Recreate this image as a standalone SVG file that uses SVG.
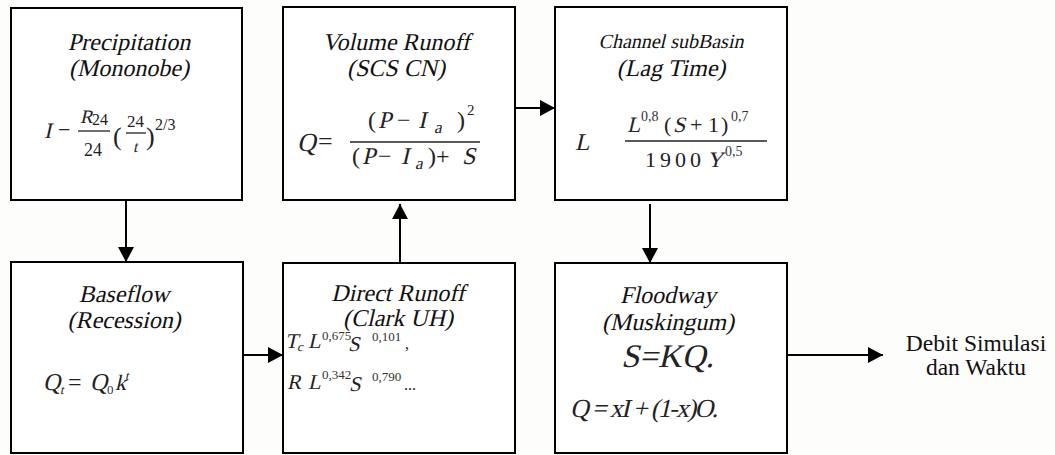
<svg xmlns="http://www.w3.org/2000/svg" width="1055" height="455" viewBox="0 0 1055 455">
<defs>
<style>
.box{fill:#ffffff;stroke:#000;stroke-width:2}
.t{font-family:"Liberation Serif","Times New Roman",serif;font-size:24px;fill:#111;text-anchor:middle}
.i{font-family:"Liberation Serif","Times New Roman",serif;font-size:22px;fill:#222}
.n{font-family:"Liberation Serif","Times New Roman",serif;font-size:22px;fill:#222}
.s{font-family:"Liberation Serif","Times New Roman",serif;font-size:13px;fill:#333}
.fl{stroke:#222;stroke-width:1.3}
.o{font-family:"Liberation Serif","Times New Roman",serif;font-size:23.5px;fill:#111;text-anchor:middle}
.c{fill:none;stroke:#000;stroke-width:2}
</style>
<marker id="ah" markerUnits="userSpaceOnUse" markerWidth="16" markerHeight="16" refX="15" refY="8" orient="auto">
<path d="M0,0 L15,8 L0,16 Z" fill="#000"/>
</marker>
</defs>
<rect width="1055" height="455" fill="#fdfdfb"/>

<g id="connectors">
<line class="c" x1="126" y1="201" x2="126" y2="262" marker-end="url(#ah)"/>
<line class="c" x1="400" y1="263" x2="400" y2="204" marker-end="url(#ah)"/>
<line class="c" x1="650" y1="204" x2="650" y2="263" marker-end="url(#ah)"/>
<line class="c" x1="515" y1="108" x2="555" y2="108" marker-end="url(#ah)"/>
<line class="c" x1="243" y1="355" x2="283" y2="355" marker-end="url(#ah)"/>
<line class="c" x1="787" y1="355" x2="883" y2="355" marker-end="url(#ah)"/>
</g>

<g id="precipitation">
<rect class="box" x="11" y="8" width="231" height="192"/>
<text class="t" transform="translate(129,50) skewX(-13)">Precipitation</text>
<text class="t" transform="translate(129,76) skewX(-13)">(Mononobe)</text>
<text class="i" transform="translate(44,138) skewX(-13)">I</text>
<text class="n" x="58" y="137">−</text>
<text class="i" transform="translate(80,123) skewX(-13)" style="font-size:19px">R</text>
<text class="n" x="92" y="125" style="font-size:16px">24</text>
<line class="fl" x1="78" y1="131" x2="110" y2="131"/>
<text class="n" x="84" y="156" style="font-size:18px">24</text>
<text class="n" x="113" y="145" style="font-size:26px">(</text>
<text class="n" x="127" y="127" style="font-size:17px">24</text>
<line class="fl" x1="126" y1="133" x2="146" y2="133"/>
<text class="i" transform="translate(133,152) skewX(-13)" style="font-size:16px">t</text>
<text class="n" x="146" y="145" style="font-size:26px">)</text>
<text class="n" x="155" y="130" style="font-size:16px">2/3</text>
</g>

<g id="volume-runoff">
<rect class="box" x="283" y="7" width="232" height="193"/>
<text class="t" transform="translate(396,50) skewX(-13)">Volume Runoff</text>
<text class="t" transform="translate(396,76) skewX(-13)">(SCS CN)</text>
<text class="i" transform="translate(297,151) skewX(-13)" style="font-size:26px">Q</text>
<text class="n" x="318" y="150" style="font-size:26px">=</text>
<text class="n" x="368" y="128" style="font-size:24px">(</text>
<text class="i" transform="translate(378,128) skewX(-13)" style="font-size:24px">P</text>
<text class="n" x="397" y="128" style="font-size:24px">−</text>
<text class="i" transform="translate(418,128) skewX(-13)" style="font-size:24px">I</text>
<text class="i" transform="translate(434,133) skewX(-13)" style="font-size:17px">a</text>
<text class="n" x="457" y="128" style="font-size:24px">)</text>
<text class="n" x="467" y="115" style="font-size:15px">2</text>
<line class="fl" x1="350" y1="142" x2="480" y2="142"/>
<text class="n" x="352" y="164" style="font-size:24px">(</text>
<text class="i" transform="translate(362,164) skewX(-13)" style="font-size:24px">P</text>
<text class="n" x="378" y="164" style="font-size:24px">−</text>
<text class="i" transform="translate(401,164) skewX(-13)" style="font-size:24px">I</text>
<text class="i" transform="translate(415,169) skewX(-13)" style="font-size:17px">a</text>
<text class="n" x="428" y="164" style="font-size:24px">)+</text>
<text class="i" transform="translate(462,164) skewX(-13)" style="font-size:24px">S</text>
</g>

<g id="channel-subbasin">
<rect class="box" x="555" y="7" width="232" height="193"/>
<text class="t" transform="translate(671,48) skewX(-13)" style="font-size:20px">Channel subBasin</text>
<text class="t" transform="translate(671,76) skewX(-13)">(Lag Time)</text>
<text class="i" transform="translate(575,150) skewX(-13)" style="font-size:24px">L</text>
<text class="i" transform="translate(627,132) skewX(-13)" style="font-size:22px">L</text>
<text class="s" x="641" y="121" style="font-size:14px">0,8</text>
<text class="n" x="664" y="132">(</text>
<text class="i" transform="translate(673,132) skewX(-13)">S</text>
<text class="n" x="690" y="132">+</text>
<text class="n" x="708" y="132">1</text>
<text class="n" x="721" y="132">)</text>
<text class="s" x="731" y="121" style="font-size:14px">0,7</text>
<line class="fl" x1="625" y1="141" x2="767" y2="141"/>
<text class="n" x="645" y="167" letter-spacing="4">1900</text>
<text class="i" transform="translate(707,167) skewX(-13)">Y</text>
<text class="s" x="725" y="156" style="font-size:14px">0,5</text>
</g>

<g id="baseflow">
<rect class="box" x="11" y="262" width="232" height="191"/>
<text class="t" transform="translate(124,302) skewX(-13)">Baseflow</text>
<text class="t" transform="translate(124,328) skewX(-13)">(Recession)</text>
<text class="i" transform="translate(43,390) skewX(-13)" style="font-size:24px">Q</text>
<text class="i" transform="translate(60,394) skewX(-13)" style="font-size:13px">t</text>
<text class="n" x="68" y="390" style="font-size:24px">=</text>
<text class="i" transform="translate(90,390) skewX(-13)" style="font-size:24px">Q</text>
<text class="s" x="107" y="394">0</text>
<text class="i" transform="translate(115,390) skewX(-13)">k</text>
<text class="i" transform="translate(125,380) skewX(-13)" style="font-size:13px">t</text>
</g>

<g id="direct-runoff">
<rect class="box" x="283" y="263" width="232" height="190"/>
<text class="t" transform="translate(398,301) skewX(-13)">Direct Runoff</text>
<text class="t" transform="translate(398,326) skewX(-13)">(Clark UH)</text>
<text class="i" transform="translate(285,348) skewX(-13)" style="font-size:21px">T</text>
<text class="i" transform="translate(297,351) skewX(-13)" style="font-size:13px">c</text>
<text class="i" transform="translate(308,348) skewX(-13)" style="font-size:21px">L</text>
<text class="s" x="322" y="340">0,675</text>
<text class="i" transform="translate(348,351) skewX(-13)" style="font-size:21px">S</text>
<text class="s" x="372" y="341">0,101</text>
<text class="n" x="405" y="349" style="font-size:16px">,</text>
<text class="i" transform="translate(287,389) skewX(-13)" style="font-size:21px">R</text>
<text class="i" transform="translate(308,389) skewX(-13)" style="font-size:21px">L</text>
<text class="s" x="322" y="379">0,342</text>
<text class="i" transform="translate(349,391) skewX(-13)" style="font-size:21px">S</text>
<text class="s" x="372" y="381">0,790</text>
<text class="n" x="404" y="390" style="font-size:16px">...</text>
</g>

<g id="floodway">
<rect class="box" x="555" y="263" width="232" height="190"/>
<text class="t" transform="translate(668,303) skewX(-13)">Floodway</text>
<text class="t" transform="translate(668,330) skewX(-13)">(Muskingum)</text>
<text class="i" transform="translate(621,367) skewX(-13)" style="font-size:33px">S=KQ.</text>
<text class="i" transform="translate(570,417) skewX(-13)" style="font-size:26px" textLength="148">Q = xI + (1-x)O.</text>
</g>

<g id="output">
<text class="o" x="976" y="351">Debit Simulasi</text>
<text class="o" x="976" y="375">dan Waktu</text>
</g>
</svg>
